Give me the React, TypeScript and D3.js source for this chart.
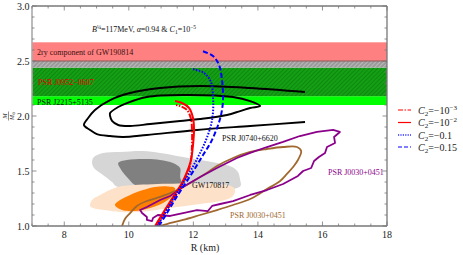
import React from 'react';
import * as d3 from 'd3';

const W = 463, H = 255;
const xDomain = [7, 18];
const yDomain = [1, 3];

// horizontal bands (mass ranges)
const bandLo = [2.10, 2.18, 2.44, 2.50];
const bandHi = [2.18, 2.44, 2.50, 2.67];

// GW170817 regions
const gwHeavyOuter: [number, number][] = [[9.63,1.36],[9.48,1.40],[9.20,1.464],[8.92,1.527],[8.86,1.582],[8.92,1.627],[9.20,1.664],[9.73,1.673],[10.44,1.682],[10.97,1.664],[11.68,1.627],[12.73,1.573],[13.20,1.536],[13.38,1.491],[13.45,1.418],[13.45,1.36]];
const gwHeavyInner: [number, number][] = [[10.28,1.36],[9.94,1.445],[9.73,1.527],[9.67,1.573],[9.94,1.60],[10.56,1.609],[10.97,1.60],[11.37,1.573],[11.59,1.527],[11.59,1.445],[11.65,1.36]];
const gwLightOuter: [number, number][] = [[8.80,1.182],[8.86,1.236],[9.11,1.282],[9.48,1.336],[9.73,1.36],[13.20,1.36],[13.29,1.327],[13.23,1.273],[12.98,1.236],[12.21,1.20],[11.28,1.164],[10.35,1.127],[9.73,1.127],[9.26,1.145],[8.89,1.164]];
const gwLightInner: [number, number][] = [[9.57,1.191],[9.73,1.236],[10.04,1.282],[10.44,1.327],[10.81,1.355],[11.21,1.36],[11.43,1.345],[11.34,1.273],[11.06,1.209],[10.66,1.164],[10.19,1.136],[9.79,1.145]];

// PSR J0740+6620 contours
const j0740Outer: [number, number][] = [[15.46,2.218],[13.76,2.255],[12.21,2.273],[10.97,2.255],[10.04,2.209],[9.42,2.145],[8.95,2.055],[8.74,1.982],[8.61,1.918],[8.80,1.873],[9.01,1.836],[9.42,1.818],[9.82,1.809],[10.56,1.827],[12.11,1.873],[13.76,1.909],[15.46,1.945]];
const j0740Inner: [number, number][] = [[9.42,2.027],[9.67,2.082],[9.94,2.118],[10.56,2.173],[11.68,2.191],[13.23,2.173],[13.76,2.136],[14.07,2.091],[13.76,2.073],[13.45,2.045],[13.04,2.009],[12.21,1.973],[11.59,1.955],[10.66,1.927],[10.04,1.909],[9.67,1.918],[9.48,1.955],[9.42,2.0]];

// PSR J0030+0451 contours
const j0030Purple: [number, number][] = [[10.35,1.145],[10.56,1.173],[10.97,1.236],[11.28,1.273],[11.68,1.355],[12.21,1.445],[12.73,1.527],[13.35,1.618],[13.76,1.664],[14.28,1.718],[14.78,1.764],[15.30,1.818],[15.83,1.855],[16.33,1.873],[16.54,1.855],[16.36,1.809],[16.39,1.755],[16.14,1.718],[16.08,1.664],[15.89,1.627],[15.74,1.591],[15.65,1.527],[15.40,1.5],[15.24,1.455],[14.78,1.382],[14.28,1.327],[13.76,1.282],[13.23,1.227],[12.83,1.2],[12.58,1.182],[12.45,1.136],[12.11,1.145],[11.68,1.118],[11.28,1.091],[10.90,1.1],[10.75,1.073],[10.72,1.045],[10.56,1.055],[10.56,1.082],[10.41,1.118]];
const j0030Brown: [number, number][] = [[9.79,1.0],[9.88,1.064],[10.04,1.118],[10.25,1.182],[10.56,1.227],[10.97,1.264],[11.43,1.318],[11.90,1.391],[12.36,1.473],[12.73,1.545],[13.23,1.618],[13.76,1.673],[14.28,1.70],[14.78,1.718],[15.21,1.718],[15.34,1.682],[15.24,1.60],[15.09,1.536],[14.90,1.473],[14.69,1.409],[14.28,1.336],[13.76,1.245],[13.23,1.191],[12.73,1.145],[12.21,1.10],[11.68,1.055],[11.18,1.018],[10.97,1.0]];

// M-R curves for C2 values
const c2Labels = ['\u221210', '\u221210', '\u22120.1', '\u22120.15'];
const c2Exp = ['\u22123', '\u22122', '', ''];
const curveC2m3: [number, number][] = [[10.874,1.0],[11.121,1.118],[11.431,1.264],[11.679,1.391],[11.834,1.491],[11.927,1.6],[11.958,1.736],[11.958,1.873],[11.927,1.973],[11.803,2.055],[11.586,2.091],[11.462,2.10]];
const curveC2m2: [number, number][] = [[10.812,1.0],[11.06,1.118],[11.369,1.264],[11.648,1.391],[11.803,1.491],[11.927,1.6],[11.989,1.736],[12.02,1.873],[11.989,1.982],[11.865,2.073],[11.648,2.118],[11.431,2.136]];
const curveC2m01: [number, number][] = [[10.874,1.0],[11.121,1.118],[11.369,1.245],[11.648,1.373],[11.927,1.509],[12.175,1.645],[12.392,1.782],[12.547,1.918],[12.609,2.036],[12.609,2.173],[12.547,2.309],[12.33,2.391],[11.989,2.427]];
const curveC2m015: [number, number][] = [[10.935,1.0],[11.183,1.118],[11.462,1.255],[11.741,1.382],[12.02,1.509],[12.299,1.645],[12.547,1.764],[12.733,1.891],[12.857,2.009],[12.919,2.145],[12.888,2.327],[12.795,2.464],[12.609,2.545],[12.268,2.591]];

const xTicksMajor = [8, 10, 12, 14, 16, 18];
const yTicksMajor = [1.0, 1.5, 2.0, 2.5, 3.0];

const serif = "'Liberation Serif', 'Times New Roman', serif";

export default function App() {
  const x = d3.scaleLinear().domain(xDomain).range([32, 387]);
  const y = d3.scaleLinear().domain(yDomain).range([226, 6]);
  const lineOpen = d3.line<[number, number]>().x(d => x(d[0])).y(d => y(d[1])).curve(d3.curveCatmullRom);
  const lineClosed = d3.line<[number, number]>().x(d => x(d[0])).y(d => y(d[1])).curve(d3.curveCatmullRomClosed);
  const lineLinClosed = d3.line<[number, number]>().x(d => x(d[0])).y(d => y(d[1])).curve(d3.curveLinearClosed);

  const xMinor = d3.range(7, 18.001, 0.5);
  const yMinor = d3.range(1, 3.001, 0.1);
  const isMajX = (v: number) => xTicksMajor.some(t => Math.abs(t - v) < 1e-6);
  const isMajY = (v: number) => yTicksMajor.some(t => Math.abs(t - v) < 1e-6);

  const bandFills = ['#00ff00', 'url(#greenHatch)', 'url(#grayHatch)', '#ff8080'];

  const legendStyles = [
    { color: '#ff0000', dash: '5,1.5,1.5,1.5', w: 1.2 },
    { color: '#ff0000', dash: '', w: 1.2 },
    { color: '#3030ff', dash: '1.2,1.2', w: 1.4 },
    { color: '#0000ff', dash: '4,2', w: 1.2 },
  ];
  const legendY = [110, 122.5, 135, 147];

  return (
    <svg width={W} height={H} style={{ position: 'absolute', left: 0, top: 0, background: '#fff' }} fontFamily={serif}>
      <defs>
        <clipPath id="plot"><rect x={32} y={6} width={355} height={220} /></clipPath>
        <pattern id="greenHatch" width="3" height="3" patternUnits="userSpaceOnUse" patternTransform="rotate(45)">
          <rect width="3" height="3" fill="#14a014" />
          <line x1="0" y1="0" x2="0" y2="3" stroke="#0a6e0a" strokeWidth="1" />
        </pattern>
        <pattern id="grayHatch" width="3" height="3" patternUnits="userSpaceOnUse" patternTransform="rotate(45)">
          <rect width="3" height="3" fill="#9a9a9a" />
          <line x1="0" y1="0" x2="0" y2="3" stroke="#d8d8d8" strokeWidth="1" />
        </pattern>
      </defs>

      <g clipPath="url(#plot)">
        {bandLo.map((lo, i) => (
          <rect key={i} x={x(7)} width={x(18) - x(7)} y={y(bandHi[i])} height={y(lo) - y(bandHi[i])} fill={bandFills[i]} />
        ))}
        <line x1={x(7)} x2={x(18)} y1={y(bandLo[3])} y2={y(bandLo[3])} stroke="#8a5a5a" strokeWidth={1} />

        <path d={lineClosed(gwHeavyOuter) || ''} fill="#d6d6d6" />
        <path d={lineClosed(gwHeavyInner) || ''} fill="#808080" />
        <path d={lineClosed(gwLightOuter) || ''} fill="#fde2c9" />
        <path d={lineClosed(gwLightInner) || ''} fill="#ff8000" />

        <path d={lineOpen(j0030Brown) || ''} fill="none" stroke="#a0682e" strokeWidth={1.8} />
        <path d={lineLinClosed(j0030Purple) || ''} fill="none" stroke="#8b008b" strokeWidth={1.8} strokeLinejoin="round" />

        <path d={lineOpen(j0740Outer) || ''} fill="none" stroke="#000" strokeWidth={1.9} />
        <path d={lineClosed(j0740Inner) || ''} fill="none" stroke="#000" strokeWidth={1.9} />

        <path d={lineOpen(curveC2m2) || ''} fill="none" stroke="#ff0000" strokeWidth={2} />
        <path d={lineOpen(curveC2m3) || ''} fill="none" stroke="#ff0000" strokeWidth={2} strokeDasharray="6,1.5,1.5,1.5" />
        <path d={lineOpen(curveC2m01) || ''} fill="none" stroke="#0000ff" strokeWidth={2} strokeDasharray="1.5,1.5" />
        <path d={lineOpen(curveC2m015) || ''} fill="none" stroke="#0000ff" strokeWidth={2} strokeDasharray="5,2.5" />
      </g>

      {/* frame */}
      <line x1={32} x2={387} y1={226} y2={226} stroke="#777" strokeWidth={1.3} />
      <line x1={32} x2={387} y1={6} y2={6} stroke="#777" strokeWidth={1.3} />
      <line x1={32} x2={32} y1={6} y2={226} stroke="#aaa" strokeWidth={1.6} />
      <line x1={387} x2={387} y1={6} y2={226} stroke="#777" strokeWidth={1.3} />

      {xMinor.map((v, i) => {
        const L = isMajX(v) ? 4.5 : 2.5;
        return (
          <g key={'xt' + i} stroke="#777" strokeWidth={0.8}>
            <line x1={x(v)} x2={x(v)} y1={226} y2={226 - L} />
            <line x1={x(v)} x2={x(v)} y1={6} y2={6 + L} />
          </g>
        );
      })}
      {yMinor.map((v, i) => {
        const L = isMajY(v) ? 4.5 : 2.5;
        return (
          <g key={'yt' + i} stroke="#777" strokeWidth={0.8}>
            <line x1={32} x2={32 + L} y1={y(v)} y2={y(v)} />
            <line x1={387} x2={387 - L} y1={y(v)} y2={y(v)} />
          </g>
        );
      })}
      {xTicksMajor.map(v => (
        <text key={'xl' + v} x={x(v)} y={238} fontSize={10} textAnchor="middle" fill="#222">{v}</text>
      ))}
      {yTicksMajor.map(v => (
        <text key={'yl' + v} x={29.5} y={y(v) + 3.5} fontSize={10} textAnchor="end" fill="#222">{v.toFixed(1)}</text>
      ))}

      <text x={205} y={251} fontSize={10} textAnchor="middle" fill="#222">R (km)</text>
      <g transform="translate(8.5,116) rotate(-90)">
        <text x={0} y={-2} fontSize={6.5} textAnchor="middle" fontStyle="italic" fill="#222">M</text>
        <line x1={-4.5} x2={4.5} y1={0} y2={0} stroke="#222" strokeWidth={0.5} />
        <text x={0} y={5.5} fontSize={6} textAnchor="middle" fill="#222"><tspan fontStyle="italic">M</tspan><tspan fontSize={4} dy={1}>⊙</tspan></text>
      </g>

      {/* annotations */}
      <text x={92} y={32} fontSize={8} fill="#111">
        <tspan fontStyle="italic">B</tspan><tspan fontSize={5.5} dy={-3.5}>¼</tspan><tspan dy={3.5}>=117MeV, </tspan>
        <tspan fontStyle="italic">α</tspan><tspan>=0.94 &amp; </tspan>
        <tspan fontStyle="italic">C</tspan><tspan fontSize={5.5} dy={1.5}>1</tspan><tspan dy={-1.5}>=10</tspan><tspan fontSize={5.5} dy={-3.5}>−5</tspan>
      </text>
      <text x={37} y={55} fontSize={8} fill="#3a1010">2ry component of GW190814</text>
      <text x={38} y={85} fontSize={8} fill="#e00000">PSR J0952−0607</text>
      <text x={37} y={105} fontSize={8} fill="#111">PSR J2215+5135</text>
      <text x={222} y={141} fontSize={8} fill="#111">PSR J0740+6620</text>
      <text x={192} y={188} fontSize={8} fill="#111">GW170817</text>
      <text x={328} y={175} fontSize={8} fill="#8b008b">PSR J0030+0451</text>
      <text x={230} y={218} fontSize={8} fill="#a0682e">PSR J0030+0451</text>

      {/* legend */}
      {legendY.map((ly, i) => (
        <g key={'lg' + i}>
          <line x1={398} x2={411} y1={ly} y2={ly} stroke={legendStyles[i].color} strokeWidth={legendStyles[i].w} strokeDasharray={legendStyles[i].dash} />
          <text x={418} y={ly + 3.5} fontSize={10} fill="#222">
            <tspan fontStyle="italic">C</tspan><tspan fontSize={7} dy={2}>2</tspan><tspan dy={-2}>={c2Labels[i]}</tspan>
            {c2Exp[i] ? <tspan fontSize={7} dy={-4}>{c2Exp[i]}</tspan> : null}
          </text>
        </g>
      ))}
    </svg>
  );
}
